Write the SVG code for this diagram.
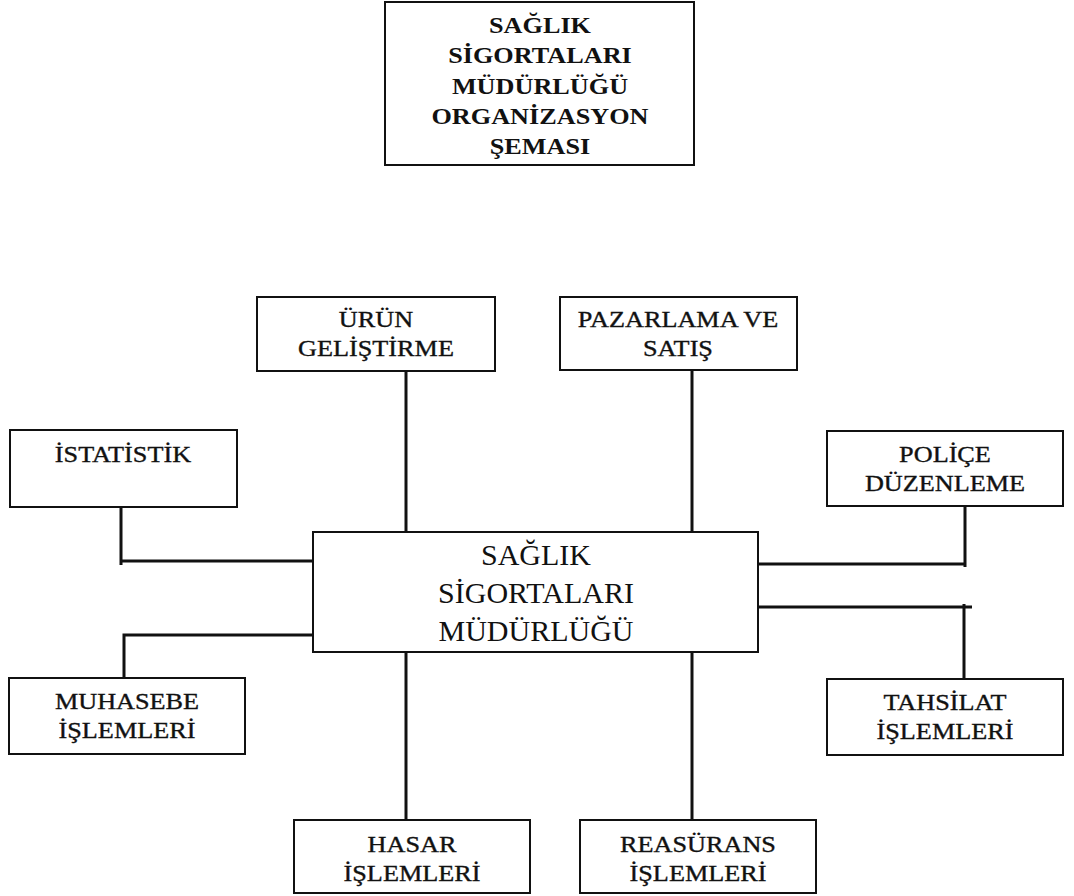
<svg xmlns="http://www.w3.org/2000/svg" width="1074" height="896" viewBox="0 0 1074 896">
  <style>
    .box { fill: #ffffff; stroke: #111111; stroke-width: 2; }
    .link { fill: none; stroke: #111111; stroke-width: 3; stroke-linecap: butt; }
    text { font-family: "Liberation Serif", "Times New Roman", serif; fill: #111111; text-anchor: middle; }
    .title { font-size: 23px; font-weight: bold; }
    .main { font-size: 30px; }
    .unit { font-size: 23px; stroke: #111111; stroke-width: 0.35; }
    .wide { transform-box: fill-box; transform-origin: center; transform: scaleX(1.14); }
  </style>
  <rect width="1074" height="896" fill="#ffffff"/>

  <!-- connectors -->
  <g id="connectors">
    <path class="link" d="M121,507 V565 M121,561 H313"/>
    <path class="link" d="M406,371 V532"/>
    <path class="link" d="M692,370 V532"/>
    <path class="link" d="M965,506 V567 M758,564 H965"/>
    <path class="link" d="M758,607 H972 M964,604 V679"/>
    <path class="link" d="M313,635 H124 V678"/>
    <path class="link" d="M406,646 V820"/>
    <path class="link" d="M692,646 V820"/>
  </g>

  <!-- heading -->
  <g id="title">
    <rect class="box" x="385" y="2" width="309" height="163"/>
    <text class="title wide" x="540" y="33">SAĞLIK</text>
    <text class="title wide" x="540" y="63">SİGORTALARI</text>
    <text class="title wide" x="540" y="94">MÜDÜRLÜĞÜ</text>
    <text class="title wide" x="540" y="124">ORGANİZASYON</text>
    <text class="title wide" x="540" y="154">ŞEMASI</text>
  </g>

  <!-- central directorate -->
  <g id="mudurluk">
    <rect class="box" x="313" y="532" width="445" height="120"/>
    <text class="main" x="536" y="565">SAĞLIK</text>
    <text class="main" x="536" y="603">SİGORTALARI</text>
    <text class="main" x="536" y="641">MÜDÜRLÜĞÜ</text>
  </g>

  <g id="urun-gelistirme">
    <rect class="box" x="257" y="297" width="238" height="74"/>
    <text class="unit wide" x="376" y="327">ÜRÜN</text>
    <text class="unit wide" x="376" y="356">GELİŞTİRME</text>
  </g>

  <g id="pazarlama">
    <rect class="box" x="560" y="297" width="237" height="73"/>
    <text class="unit wide" x="678" y="327">PAZARLAMA VE</text>
    <text class="unit wide" x="678" y="356">SATIŞ</text>
  </g>

  <g id="istatistik">
    <rect class="box" x="10" y="430" width="227" height="77"/>
    <text class="unit wide" x="123" y="462">İSTATİSTİK</text>
  </g>

  <g id="police">
    <rect class="box" x="827" y="431" width="236" height="75"/>
    <text class="unit wide" x="945" y="462">POLİÇE</text>
    <text class="unit wide" x="945" y="491">DÜZENLEME</text>
  </g>

  <g id="muhasebe">
    <rect class="box" x="9" y="678" width="236" height="76"/>
    <text class="unit wide" x="127" y="709">MUHASEBE</text>
    <text class="unit wide" x="127" y="738">İŞLEMLERİ</text>
  </g>

  <g id="tahsilat">
    <rect class="box" x="827" y="679" width="236" height="76"/>
    <text class="unit wide" x="945" y="710">TAHSİLAT</text>
    <text class="unit wide" x="945" y="739">İŞLEMLERİ</text>
  </g>

  <g id="hasar">
    <rect class="box" x="294" y="820" width="236" height="73"/>
    <text class="unit wide" x="412" y="852">HASAR</text>
    <text class="unit wide" x="412" y="881">İŞLEMLERİ</text>
  </g>

  <g id="reasurans">
    <rect class="box" x="580" y="820" width="236" height="73"/>
    <text class="unit wide" x="698" y="852">REASÜRANS</text>
    <text class="unit wide" x="698" y="881">İŞLEMLERİ</text>
  </g>
</svg>
